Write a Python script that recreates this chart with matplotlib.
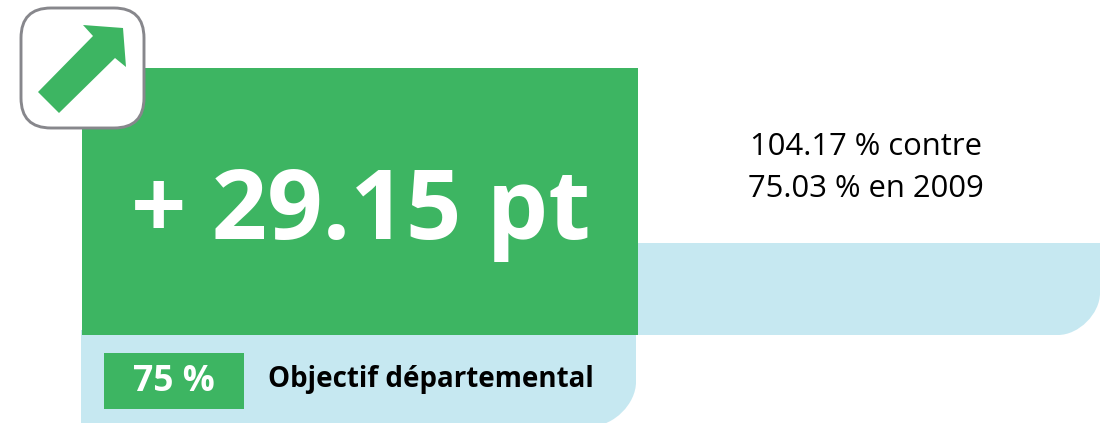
import matplotlib
matplotlib.use('Agg')
import matplotlib.pyplot as plt
from matplotlib.patches import PathPatch, Polygon, Rectangle, FancyBboxPatch
from matplotlib.path import Path

ecart = '+ 29.15 pt'
objectif = '75 %'
objectif_label = 'Objectif départemental'
comparaison = ['104.17 % contre', '75.03 % en 2009']

VERT = '#3DB562'
BLEU = '#C6E8F1'
GRIS = '#87878C'

plt.rcParams['font.family'] = ['Open Sans', 'DejaVu Sans']

fig = plt.figure(figsize=(11, 4.23), dpi=100)
ax = fig.add_axes([0, 0, 1, 1])
ax.set_xlim(0, 1100)
ax.set_ylim(423, 0)
ax.axis('off')


def bande(x0, x1, y0, y1, r):
    # rectangle avec seulement le coin bas droit arrondi
    k = 0.45 * r
    verts = [(x0, y0), (x1, y0), (x1, y1 - r), (x1, y1 - r + 1.1 * k), (x1 - r + 1.1 * k, y1),
             (x1 - r, y1), (x0, y1), (x0, y0)]
    codes = [Path.MOVETO, Path.LINETO, Path.LINETO, Path.CURVE4, Path.CURVE4, Path.CURVE4,
             Path.LINETO, Path.CLOSEPOLY]
    return PathPatch(Path(verts, codes), facecolor=BLEU, edgecolor='none')


ax.add_patch(bande(630, 1100, 243, 335, 42))
ax.add_patch(bande(81, 636, 330, 426, 44))
ax.add_patch(Rectangle((82, 68), 556, 267, facecolor=VERT, edgecolor='none'))
ax.add_patch(Rectangle((104, 353), 140, 56, facecolor=VERT, edgecolor='none'))

# pictogramme fleche
ax.add_patch(FancyBboxPatch((21, 8), 123, 120, boxstyle='round,pad=0,rounding_size=30',
                            facecolor='white', edgecolor=GRIS, linewidth=2.1))
ax.add_patch(Polygon([(83, 25), (123, 28), (126, 67), (115, 58), (59, 113), (38, 92), (93, 36)],
                     closed=True, facecolor=VERT, edgecolor='none'))

ax.text(361, 214, ecart, color='white', fontsize=70, fontweight='bold', ha='center', va='center')
ax.text(174, 382, objectif, color='white', fontsize=25.5, fontweight='bold', ha='center', va='center')
ax.text(268, 380, objectif_label, color='black', fontsize=20, fontweight='bold', ha='left', va='center')
ax.text(866, 147, comparaison[0], color='black', fontsize=22.3, ha='center', va='center')
ax.text(866, 189, comparaison[1], color='black', fontsize=22.3, ha='center', va='center')

fig.savefig('out.png', dpi=100)
